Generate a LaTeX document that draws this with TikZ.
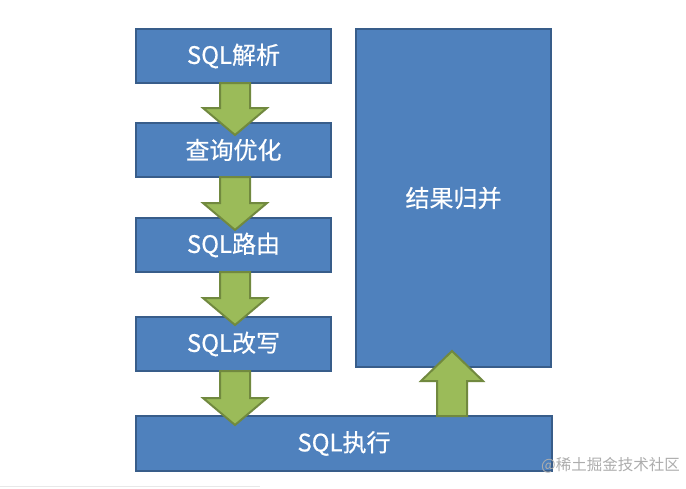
\documentclass[tikz,border=0pt]{standalone}
\usepackage{fontspec}
\newfontfamily\cjk{Noto Sans CJK SC}
\newfontfamily\cjkb[FakeBold=0.5]{Noto Sans CJK SC}
\usetikzlibrary{calc}
\definecolor{boxfill}{HTML}{4F81BD}
\definecolor{boxline}{HTML}{385D8A}
\definecolor{arrfill}{HTML}{9BBB59}
\definecolor{arrline}{HTML}{71893F}
\tikzset{
  stagebox/.style={draw=boxline, fill=boxfill, line width=2pt, inner sep=0pt,
    minimum width=195pt, minimum height=54pt, text=white,
    font=\cjkb\fontsize{24}{27}\selectfont},
  blockarr/.style={draw=arrline, fill=arrfill, line width=2pt, line join=miter},
}
% down block arrow: from anchor #1 to tip #2
\newcommand\downblock[2]{%
  \draw[blockarr] let \p1=(#1), \p2=(#2) in
    (\x1-15pt,\y1) -- (\x1-15pt,\y2+27pt) -- (\x1-32pt,\y2+27pt) -- (\x1,\y2)
    -- (\x1+32pt,\y2+27pt) -- (\x1+15pt,\y2+27pt) -- (\x1+15pt,\y1) -- cycle;}
\newcommand\upblock[2]{%
  \draw[blockarr] let \p1=(#1), \p2=(#2) in
    (\x1-15pt,\y1) -- (\x1-15pt,\y2-30pt) -- (\x1-31pt,\y2-30pt) -- (\x1,\y2)
    -- (\x1+31pt,\y2-30pt) -- (\x1+15pt,\y2-30pt) -- (\x1+15pt,\y1) -- cycle;}
\begin{document}
\begin{tikzpicture}[x=1pt,y=-1pt]
\useasboundingbox (0,0) rectangle (686,488);
\fill[white] (0,0) rectangle (686,488);
\draw[gray!18, line width=1pt] (0,486.5) -- (260,486.5);

\node[stagebox] (parse) at (233.5,56) {SQL解析};
\node[stagebox] (opt)   at (233.5,150) {查询优化};
\node[stagebox] (route) at (233.5,245) {SQL路由};
\node[stagebox] (rewrite) at (233.5,344) {SQL改写};
\node[stagebox, minimum width=416pt, minimum height=55pt] (exec) at (344,443.5) {SQL执行};
\node[stagebox, minimum height=338pt] (merge) at (453.5,198) {结果归并};

\coordinate (t1) at (235,135);
\coordinate (t2) at (235,230);
\coordinate (t3) at (235,325);
\coordinate (t4) at (235,425);
\coordinate (s1) at (235,83);
\coordinate (s2) at (235,177);
\coordinate (s3) at (235,272);
\coordinate (s4) at (235,371);
\coordinate (u0) at (452,416);
\coordinate (u1) at (452,351);

\downblock{s1}{t1}
\downblock{s2}{t2}
\downblock{s3}{t3}
\downblock{s4}{t4}
\upblock{u0}{u1}

\node[anchor=west, text=black!32, font=\cjk\fontsize{15.5}{18}\selectfont, inner sep=0pt] (wm) at (541,465) {@稀土掘金技术社区};
\end{tikzpicture}
\end{document}
